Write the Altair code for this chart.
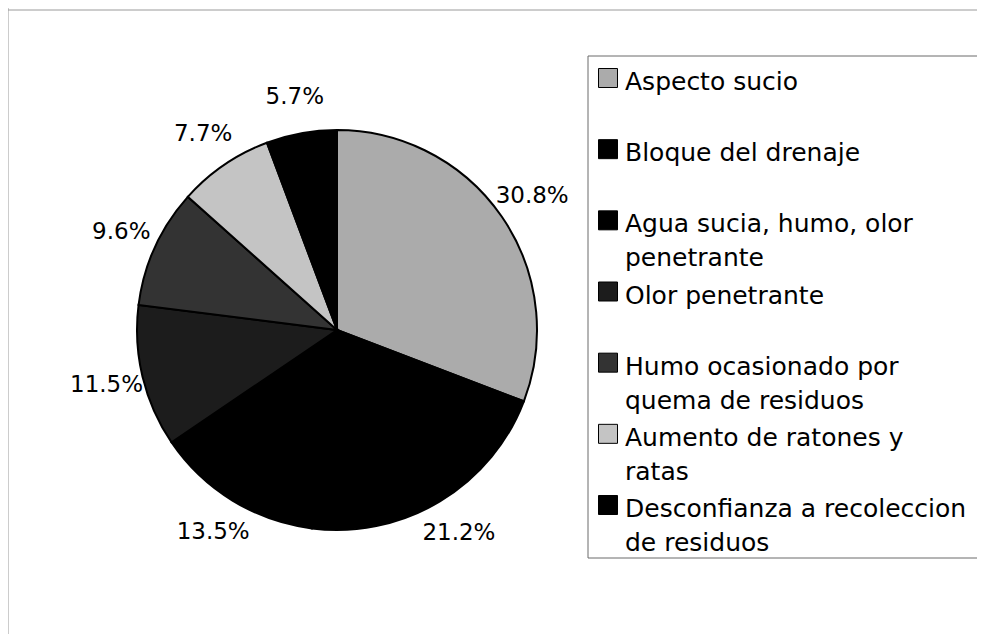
import altair as alt
import pandas as pd

categories = [
    "Aspecto sucio",
    "Bloque del drenaje",
    "Agua sucia, humo, olor penetrante",
    "Olor penetrante",
    "Humo ocasionado por quema de residuos",
    "Aumento de ratones y ratas",
    "Desconfianza a recoleccion de residuos",
]
legend_lines = [
    "Aspecto sucio",
    "Bloque del drenaje",
    "Agua sucia, humo, olor\npenetrante",
    "Olor penetrante",
    "Humo ocasionado por\nquema de residuos",
    "Aumento de ratones y\nratas",
    "Desconfianza a recoleccion\nde residuos",
]
values = [30.8, 21.2, 13.5, 11.5, 9.6, 7.7, 5.7]
colors = ["#ababab", "#000000", "#000000", "#1c1c1c", "#333333", "#c4c4c4", "#000000"]

df = pd.DataFrame({
    "cat": categories,
    "legend": legend_lines,
    "value": values,
    "idx": list(range(len(values))),
    "label": [f"{v:.1f}%" for v in values],
})
one = pd.DataFrame({"a": [0]})

FONT = "DejaVu Sans"
CX, CY = 329, 322

color = alt.Color("cat:N", scale=alt.Scale(domain=categories, range=colors), legend=None)
theta = alt.Theta("value:Q", stack=True)
order = alt.Order("idx:Q")

top_rule = alt.Chart(one).mark_rule(color="#9a9a9a", strokeWidth=1).encode(y=alt.value(2))
left_rule = alt.Chart(one).mark_rule(color="#9a9a9a", strokeWidth=1).encode(x=alt.value(0))

box = alt.Chart(one).mark_rect(fill="white", stroke="#6a6a6a", strokeWidth=1).encode(
    x=alt.value(580), x2=alt.value(975), y=alt.value(48), y2=alt.value(550))

pie = alt.Chart(df).mark_arc(radius=200, stroke="black", strokeWidth=2).encode(
    theta=theta, order=order, color=color, x=alt.value(CX), y=alt.value(CY))

labels = alt.Chart(df).mark_text(radius=237, fontSize=23, font=FONT, color="black").encode(
    theta=theta, order=order, text="label:N", x=alt.value(CX), y=alt.value(CY))

yscale = alt.Y("cat:N", scale=alt.Scale(type="point", domain=categories, range=[70, 497], padding=0), axis=None)

squares = alt.Chart(df).mark_square(size=361, stroke="black", strokeWidth=1, opacity=1).encode(
    x=alt.value(600), y=yscale, color=color)

texts = alt.Chart(df).mark_text(align="left", dy=4, fontSize=25, font=FONT, color="black",
                                lineBreak="\n", lineHeight=34).encode(
    x=alt.value(617), y=yscale, text="legend:N")

chart = alt.layer(top_rule, left_rule, box, pie, labels, squares, texts).properties(
    width=969, height=626, padding=0, autosize="none"
).configure_view(stroke=None)

chart.save("out.html", embed_options={"renderer": "svg", "actions": False})
